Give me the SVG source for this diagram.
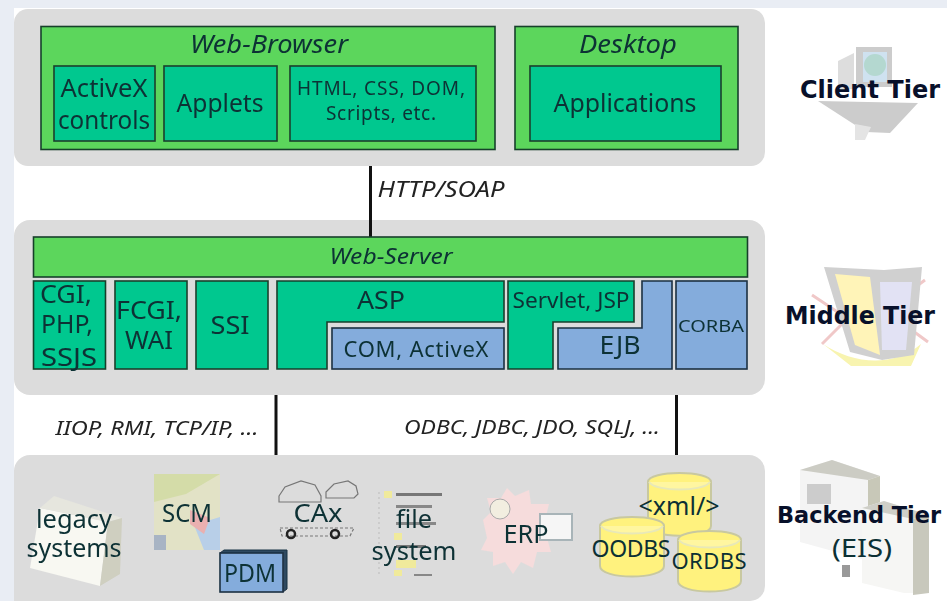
<svg xmlns="http://www.w3.org/2000/svg" width="947" height="601" viewBox="0 0 947 601">
<defs>
<style>
text{font-family:"Noto Sans","DejaVu Sans",sans-serif;fill:#0c3034;text-anchor:middle;font-size:25px}
.panel{fill:#dcdcdc}
.g{fill:#5cd65c;stroke:#17402c;stroke-width:1.6}
.t{fill:#00c88f;stroke:#17402c;stroke-width:1.6}
.b{fill:#84acdc;stroke:#1d3042;stroke-width:1.6}
.it{font-style:italic}
.tier{font-family:"DejaVu Sans",sans-serif;font-weight:bold;fill:#08102a;font-size:24px}
.conn{stroke:#111;stroke-width:3;fill:none}
.cyl{fill:#fff27e;stroke:#c8c8a0;stroke-width:2}
.lab{font-style:italic;fill:#222;font-size:20px}
</style>
<filter id="soft"><feGaussianBlur stdDeviation="0.7"/></filter>
<filter id="softer"><feGaussianBlur stdDeviation="0.35"/></filter>
</defs>
<rect width="947" height="601" fill="#fff"/>
<rect width="947" height="8" fill="#e9edf4"/>
<rect width="14" height="601" fill="#e9edf4"/>

<g id="client-panel"><rect class="panel" x="14" y="9" width="751" height="157" rx="14"/></g>
<g id="middle-panel"><rect class="panel" x="14" y="220" width="751" height="175" rx="16"/></g>
<g id="backend-panel"><path class="panel" d="M14 601V471a16 16 0 0 1 16-16H749a16 16 0 0 1 16 16V586a15 15 0 0 1-15 15Z"/></g>

<g id="connectors">
<path class="conn" d="M370.500 166V237"/>
<path class="conn" d="M276 395V455"/>
<path class="conn" d="M676.500 395V455"/>
</g>
<g id="connector-labels" filter="url(#softer)">
<text class="lab" x="441" y="197" style="font-size:21px" textLength="127" lengthAdjust="spacingAndGlyphs">HTTP/SOAP</text>
<text class="lab" x="157" y="435" textLength="203" lengthAdjust="spacingAndGlyphs">IIOP, RMI, TCP/IP, ...</text>
<text class="lab" x="532" y="434" textLength="256" lengthAdjust="spacingAndGlyphs">ODBC, JDBC, JDO, SQLJ, ...</text>
</g>

<g id="web-browser" filter="url(#softer)">
<rect class="g" x="41" y="26.500" width="454" height="123"/>
<text class="it" x="269" y="53" textLength="158" lengthAdjust="spacingAndGlyphs">Web-Browser</text>
</g>
<g id="activex" filter="url(#softer)">
<rect class="t" x="54" y="66" width="101" height="75"/>
<text x="104" y="97" textLength="87" lengthAdjust="spacingAndGlyphs">ActiveX</text>
<text x="104" y="129" textLength="92" lengthAdjust="spacingAndGlyphs">controls</text>
</g>
<g id="applets" filter="url(#softer)">
<rect class="t" x="164" y="66" width="113" height="75"/>
<text x="220" y="112" textLength="87" lengthAdjust="spacingAndGlyphs">Applets</text>
</g>
<g id="html" filter="url(#softer)">
<rect class="t" x="290" y="66" width="186" height="75"/>
<text x="381" y="95" style="font-size:19px" textLength="168" lengthAdjust="spacing">HTML, CSS, DOM,</text>
<text x="381" y="120" style="font-size:19px" textLength="110" lengthAdjust="spacing">Scripts, etc.</text>
</g>
<g id="desktop" filter="url(#softer)">
<rect class="g" x="515" y="26.500" width="223" height="123"/>
<text class="it" x="628" y="53" textLength="98" lengthAdjust="spacingAndGlyphs">Desktop</text>
</g>
<g id="applications" filter="url(#softer)">
<rect class="t" x="530" y="66" width="191" height="75"/>
<text x="625" y="112" textLength="143" lengthAdjust="spacingAndGlyphs">Applications</text>
</g>

<g id="web-server" filter="url(#softer)">
<rect class="g" x="33.500" y="237" width="714" height="40"/>
<text class="it" x="391" y="264" style="font-size:22px" textLength="123" lengthAdjust="spacingAndGlyphs">Web-Server</text>
</g>
<g id="cgi" filter="url(#softer)">
<rect class="t" x="33.500" y="281" width="72" height="88"/>
<text x="66" y="303" textLength="52" lengthAdjust="spacingAndGlyphs">CGI,</text>
<text x="67" y="333" textLength="52" lengthAdjust="spacingAndGlyphs">PHP,</text>
<text x="69" y="366" textLength="56" lengthAdjust="spacingAndGlyphs">SSJS</text>
</g>
<g id="fcgi" filter="url(#softer)">
<rect class="t" x="115" y="281" width="72" height="88"/>
<text x="149" y="319" textLength="66" lengthAdjust="spacingAndGlyphs">FCGI,</text>
<text x="149" y="349" textLength="48" lengthAdjust="spacingAndGlyphs">WAI</text>
</g>
<g id="ssi" filter="url(#softer)">
<rect class="t" x="196" y="281" width="72" height="88"/>
<text x="230" y="334" textLength="39" lengthAdjust="spacingAndGlyphs">SSI</text>
</g>
<g id="asp" filter="url(#softer)">
<path class="t" d="M277 281H504V322H327V369H277Z"/>
<text x="381" y="309" textLength="48" lengthAdjust="spacingAndGlyphs">ASP</text>
</g>
<g id="com" filter="url(#softer)">
<rect class="b" x="332" y="328" width="172" height="41"/>
<text x="416" y="357" style="font-size:22px" textLength="145" lengthAdjust="spacing">COM, ActiveX</text>
</g>
<g id="servlet" filter="url(#softer)">
<path class="t" d="M508 281H634V322H553V369H508Z"/>
<text x="571" y="308" style="font-size:21px" textLength="117" lengthAdjust="spacingAndGlyphs">Servlet, JSP</text>
</g>
<g id="ejb" filter="url(#softer)">
<path class="b" d="M642 281H672V369H558V328H642Z"/>
<text x="620" y="354" textLength="41" lengthAdjust="spacingAndGlyphs">EJB</text>
</g>
<g id="corba" filter="url(#softer)">
<rect class="b" x="676" y="281" width="71" height="88"/>
<text x="711" y="332" style="font-size:17px" textLength="66" lengthAdjust="spacingAndGlyphs">CORBA</text>
</g>

<g id="client-tier">
<g filter="url(#soft)">
<path d="M838 61l16-8v36h-16Z" fill="#ddd"/>
<rect x="856" y="47" width="36" height="40" fill="#ccc"/>
<rect x="863" y="52" width="24" height="30" fill="#cfe2f0"/>
<circle cx="875" cy="65" r="11" fill="#b4d8d0"/>
<path d="M818 101l100 2-28 30-24-1Z" fill="#ccc"/>
<path d="M855 124l16 3-6 13h-10Z" fill="#e4e4e4"/>
</g>
<text class="tier" x="870" y="98" textLength="140" lengthAdjust="spacingAndGlyphs">Client Tier</text>
</g>
<g id="middle-tier">
<g filter="url(#soft)">
<path d="M812 295l30 20M925 280l-30 22M822 344l24-24M928 342l-30-22" stroke="#f0c8c8" stroke-width="3" fill="none"/>
<path d="M823 344c30 20 70 24 98 0l-10 22h-60Z" fill="#f8f4b0"/>
<path d="M824 267l60 3 38-3-8 88-32 5-32-8Z" fill="#d0d0d0"/>
<path d="M835 274l35 3 10 78-25-10Z" fill="#fff4b8"/>
<path d="M880 282h32l-6 68h-24Z" fill="#e2e2f4"/>
</g>
<text class="tier" x="860" y="324" textLength="150" lengthAdjust="spacingAndGlyphs">Middle Tier</text>
</g>
<g id="backend-tier">
<g filter="url(#soft)">
<path d="M800 470l32-10 48 16v88l-80-22Z" fill="#f4f4f4"/>
<path d="M800 470l32-10 48 16-12 4Z" fill="#ccccc4"/>
<path d="M880 476v48l-12 4v-48Z" fill="#c8c8b8"/>
<path d="M862 508l22-7 45 14v78l-25 0-42-10Z" fill="#f6f6f4"/>
<path d="M862 508l22-7 45 14-16 4Z" fill="#cfcfc8"/>
<path d="M913 519l16-4v78l-16 2Z" fill="#c8c8bc"/>
<rect x="807" y="484" width="24" height="20" fill="#ccc"/>
<rect x="842" y="565" width="8" height="12" fill="#999"/>
</g>
<text class="tier" x="859" y="523" style="font-size:23px" textLength="164" lengthAdjust="spacingAndGlyphs">Backend Tier</text>
<text x="862" y="557" textLength="60" lengthAdjust="spacingAndGlyphs">(EIS)</text>
</g>

<g id="legacy" filter="url(#softer)">
<g filter="url(#soft)">
<path d="M30 568l10-60 68 14-8 64Z" fill="#f8f8f2"/>
<path d="M40 508l14-12 68 22-14 4Z" fill="#e6e6de"/>
<path d="M108 522l14-4-2 56-20 12Z" fill="#cfcfc0"/>
</g>
<text x="74" y="528" textLength="76" lengthAdjust="spacingAndGlyphs">legacy</text>
<text x="74" y="557" textLength="95" lengthAdjust="spacingAndGlyphs">systems</text>
</g>
<g id="scm" filter="url(#softer)">
<g filter="url(#soft)">
<rect x="154" y="474" width="66" height="76" fill="#e2e2c6"/>
<path d="M154 474h66l-34 20-32 8Z" fill="#d4dca8"/>
<path d="M194 525l26-8v33h-16Z" fill="#b8cfe8"/>
<path d="M190 510l20 8-6 16-14-10Z" fill="#eab0b0"/>
<rect x="154" y="535" width="12" height="15" fill="#a8b4c4"/>
</g>
<text x="187" y="522" textLength="50" lengthAdjust="spacingAndGlyphs">SCM</text>
</g>
<g id="pdm" filter="url(#softer)">
<path d="M220 553l4-3h63v39l-4 3Z" fill="#2d4a60" stroke="#1d3042"/>
<rect class="b" x="220" y="553" width="63" height="39"/>
<text x="250" y="582" textLength="52" lengthAdjust="spacingAndGlyphs">PDM</text>
</g>
<g id="cax" filter="url(#softer)">
<g fill="none" stroke="#555" stroke-width="1.200">
<path d="M279 496l6-9 16-6 14 4 6 11v6h-42ZM326 492l8-8 14-3 8 5 2 8-4 4h-28Z" stroke="#777"/>
<path d="M280 528h74l-4 8-68 0Z" stroke="#777" stroke-dasharray="3 2"/>
<circle cx="291" cy="534" r="4" stroke-width="2.500" stroke="#222"/>
<circle cx="335" cy="534" r="4" stroke-width="2.500" stroke="#222"/>
</g>
<text x="318" y="522" textLength="49" lengthAdjust="spacingAndGlyphs">CAx</text>
</g>
<g id="file-system" filter="url(#softer)">
<g filter="url(#soft)">
<path d="M379 492v85" stroke="#bbb" stroke-dasharray="2 3" fill="none"/>
<rect x="384" y="491" width="8" height="7" fill="#f0ea9c"/>
<rect x="396" y="493" width="46" height="3" fill="#777"/>
<rect x="396" y="505" width="36" height="3" fill="#888"/>
<rect x="396" y="522" width="40" height="3" fill="#888"/>
<rect x="394" y="533" width="8" height="7" fill="#f0ea9c"/>
<rect x="396" y="545" width="30" height="3" fill="#777"/>
<rect x="396" y="560" width="20" height="8" fill="#f0ea9c"/>
<rect x="394" y="570" width="8" height="6" fill="#f0ea9c"/>
<rect x="414" y="574" width="18" height="2" fill="#888"/>
</g>
<text x="414" y="528" textLength="36" lengthAdjust="spacingAndGlyphs">file</text>
<text x="414" y="560" textLength="85" lengthAdjust="spacingAndGlyphs">system</text>
</g>
<g id="erp" filter="url(#softer)">
<g filter="url(#soft)">
<path d="M483 520l8-8-4-14 14 0 6-10 8 8 14-6 2 14 18 0-4 16 12 8-10 10 4 14-14 0-4 16-12-6-8 12-8-12-12 4 0-14-12-2 6-12Z" fill="#f6dcdc"/>
<circle cx="500" cy="509" r="10" fill="#f2eee0" stroke="#aaa"/>
<rect x="540" y="514" width="32" height="26" fill="#f6f6f6" stroke="#a8b4b8" stroke-width="2"/>
</g>
<text x="526" y="543" textLength="45" lengthAdjust="spacingAndGlyphs">ERP</text>
</g>
<g id="xml-db">
<path class="cyl" d="M648 482c0-12 63-12 63 0V526c0 13-63 13-63 0Z"/>
<path d="M649 482c6 10 55 10 61 0" fill="#fff6a0" stroke="#e8e8b8" stroke-width="2"/>
<text x="679" y="515" textLength="81" lengthAdjust="spacing">&lt;xml/&gt;</text>
</g>
<g id="oodbs">
<path class="cyl" d="M600 526c0-12 64-12 64 0V566c0 14-64 14-64 0Z"/>
<path d="M601 526c6 10 56 10 62 0" fill="#fff6a0" stroke="#e8e8b8" stroke-width="2"/>
<text x="631" y="557" style="font-size:23px" textLength="79" lengthAdjust="spacing">OODBS</text>
</g>
<g id="ordbs">
<path class="cyl" d="M678 540c0-12 63-12 63 0V581c0 14-63 14-63 0Z"/>
<path d="M679 540c6 10 55 10 61 0" fill="#fff6a0" stroke="#e8e8b8" stroke-width="2"/>
<text x="709" y="569" style="font-size:22px" textLength="75" lengthAdjust="spacing">ORDBS</text>
</g>
</svg>
